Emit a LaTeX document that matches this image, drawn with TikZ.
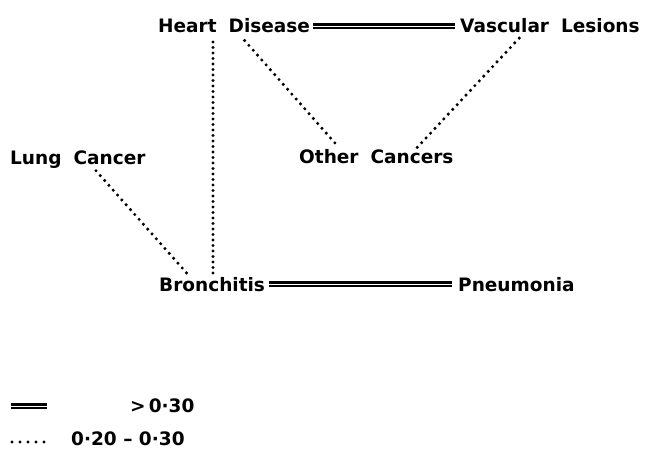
\documentclass[tikz,border=0pt]{standalone}
\usepackage{fontspec}
\setmainfont{DejaVu Sans}
\usetikzlibrary{positioning}
\newcommand{\wgap}{\hspace{12pt}}

\begin{document}
\begin{tikzpicture}[x=1pt, y=-1pt,
    disease/.style={font=\fontsize{18.5}{22}\selectfont\bfseries, inner sep=0pt, anchor=base west},
    strong/.style={draw=black, double=white, double distance=0.9pt, line width=2.6pt},
    weak/.style={line width=3.4pt, line cap=round, dash pattern=on 0pt off 6.5pt},
]
    \useasboundingbox (0,0) rectangle (645,452);

    % diseases
    \node[disease] (heart) at (158,33) {Heart\wgap Disease};
    \node[disease] (vasc) at (460,33) {Vascular\wgap Lesions};
    \node[disease] (lung) at (10,164) {Lung\wgap Cancer};
    \node[disease] (other) at (299,163) {Other\wgap Cancers};
    \node[disease] (bron) at (159,291) {Bronchitis};
    \node[disease] (pneu) at (458,291) {Pneumonia};

    % correlations above 0.30
    \draw[strong, shorten <=3pt, shorten >=5pt] (heart.east) -- (vasc.west);
    \draw[strong, shorten <=4pt, shorten >=6pt] (bron.east) -- (pneu.west);

    % correlations 0.20 - 0.30
    \draw[weak, dash pattern=on 0pt off 5.5pt, shorten <=9pt, shorten >=2pt] ([xshift=55pt]heart.base west) -- ([xshift=54pt]bron.north west);
    \draw[weak, shorten <=10pt, shorten >=5pt] ([xshift=80pt]heart.base west) -- ([xshift=41pt]other.north west);
    \draw[weak, shorten <=7pt, shorten >=1pt] ([xshift=64pt]vasc.base west) -- ([xshift=117pt]other.north west);
    \draw[weak, shorten <=9pt, shorten >=5pt] ([xshift=80pt]lung.base west) -- ([xshift=31pt]bron.north west);

    % key
    \coordinate (k1a) at (11,406);
    \coordinate (k1b) at (47,406);
    \coordinate (k2a) at (12,442);
    \coordinate (k2b) at (44,442);
    \draw[strong] (k1a) -- (k1b);
    \draw[weak, dash pattern=on 0pt off 8pt] (k2a) -- (k2b);
    \node[disease] (key1) at (130,412) {>\,0·30};
    \node[disease] (key2) at (71,445) {0·20 – 0·30};
\end{tikzpicture}
\end{document}
